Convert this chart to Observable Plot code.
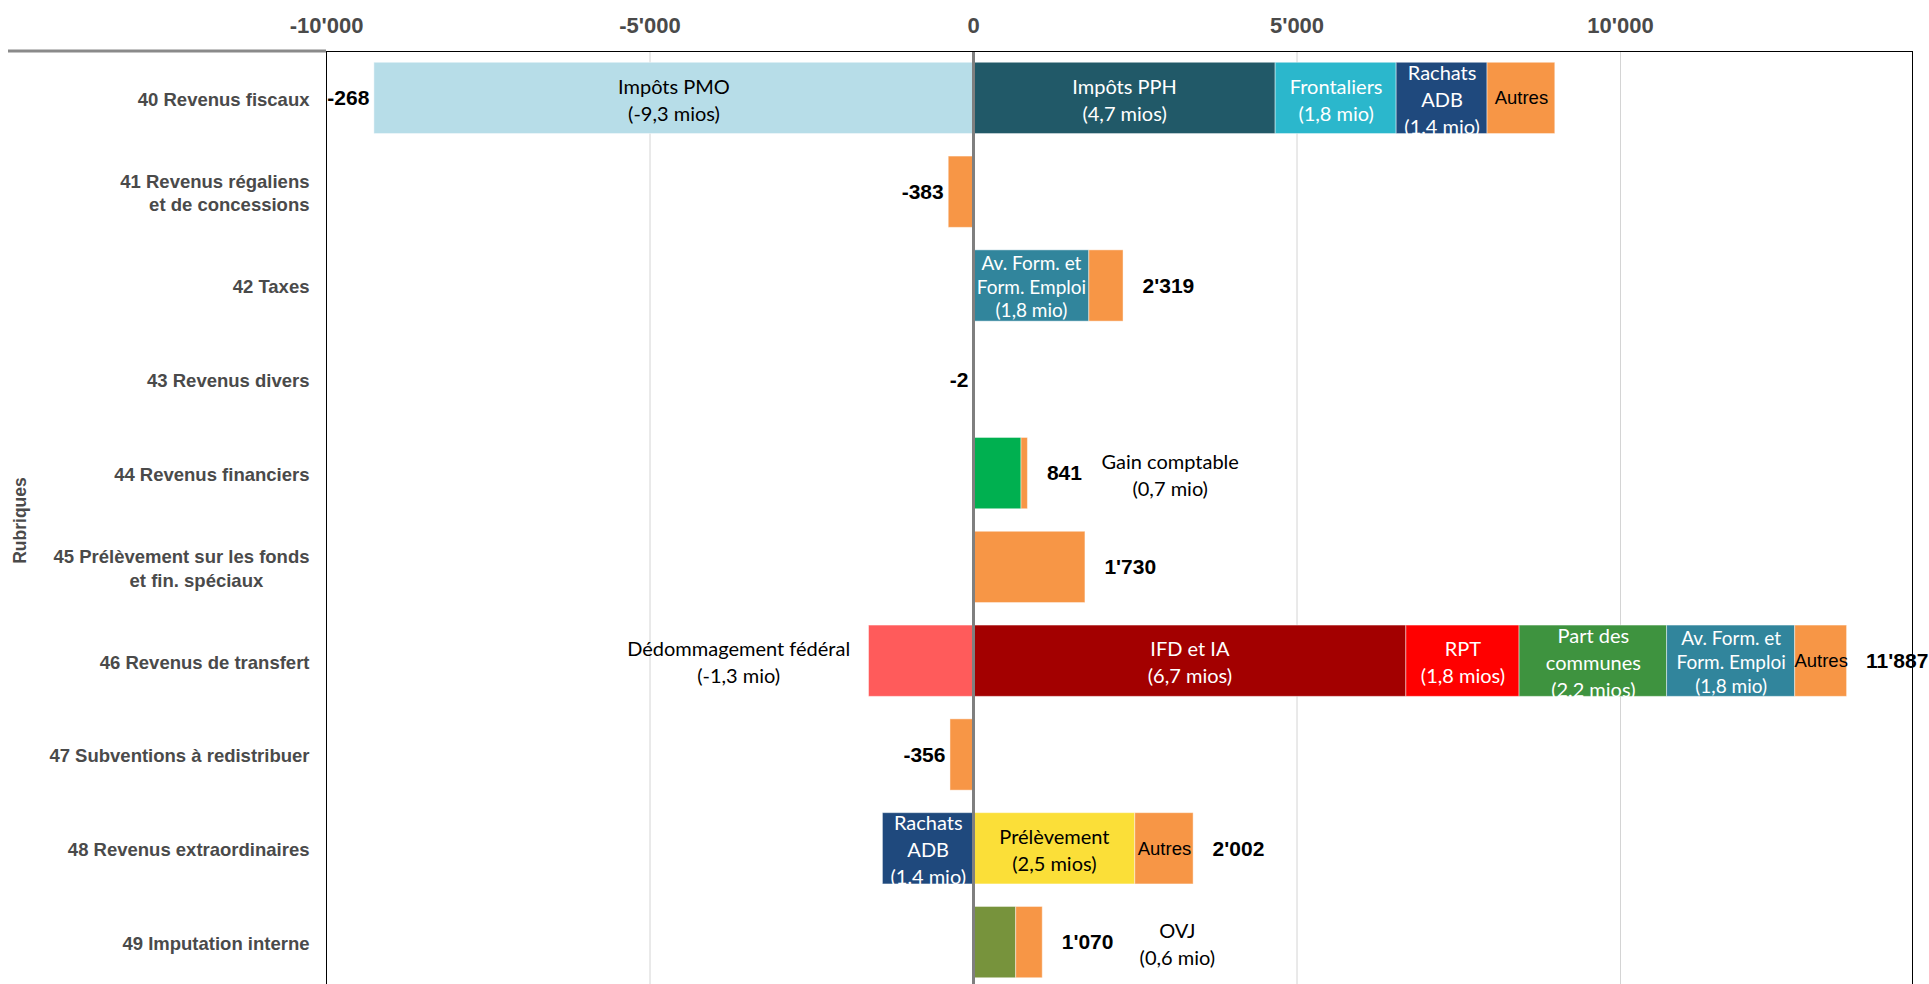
<!DOCTYPE html>
<html>
<head>
<meta charset="utf-8">
<script src="https://cdn.jsdelivr.net/npm/d3@7"></script>
<script src="https://cdn.jsdelivr.net/npm/@observablehq/plot@0.6"></script>
<style>
  html, body { margin: 0; padding: 0; background: #fff; overflow: hidden; }
  #chart svg { display: block; }
</style>
</head>
<body>
<div id="chart"></div>
<script>
// ---------------- DATA ----------------
const categories = [
  "40 Revenus fiscaux",
  "41 Revenus régaliens\net de concessions",
  "42 Taxes",
  "43 Revenus divers",
  "44 Revenus financiers",
  "45 Prélèvement sur les fonds\net fin. spéciaux",
  "46 Revenus de transfert",
  "47 Subventions à redistribuer",
  "48 Revenus extraordinaires",
  "49 Imputation interne"
];

// one entry per bar segment (index into categories)
const segCategory = [0, 0, 0, 0, 0, 1, 2, 2, 3, 4, 4, 5, 6, 6, 6, 6, 6, 6, 7, 8, 8, 8, 9, 9];
const segType = [
  "Impôts PMO", "Impôts PPH", "Frontaliers", "Rachats ADB", "Autres",
  "Autres",
  "Av. Form. et Form. Emploi", "Autres",
  "Autres",
  "Gain comptable", "Autres",
  "Autres",
  "Dédommagement fédéral", "IFD et IA", "RPT", "Part des communes", "Av. Form. et Form. Emploi", "Autres",
  "Autres",
  "Rachats ADB", "Prélèvement", "Autres",
  "OVJ", "Autres"
];
const segValue = [
  -9260, 4670, 1870, 1405, 1047,
  -383,
  1790, 529,
  -2,
  742, 99,
  1730,
  -1615, 6690, 1750, 2280, 1980, 802,
  -356,
  -1400, 2500, 902,
  660, 410
];
const segLabel = [
  "Impôts PMO\n(-9,3 mios)", "Impôts PPH\n(4,7 mios)", "Frontaliers\n(1,8 mio)", "Rachats\nADB\n(1,4 mio)", "Autres",
  "",
  "Av. Form. et\nForm. Emploi\n(1,8 mio)", "",
  "",
  "", "",
  "",
  "", "IFD et IA\n(6,7 mios)", "RPT\n(1,8 mios)", "Part des\ncommunes\n(2,2 mios)", "Av. Form. et\nForm. Emploi\n(1,8 mio)", "Autres",
  "",
  "Rachats\nADB\n(1,4 mio)", "Prélèvement\n(2,5 mios)", "Autres",
  "", ""
];

const netTotals = [-268, -383, 2319, -2, 841, 1730, 11887, -356, 2002, 1070];

// annotations written beside the bars
const noteCategory = [4, 6, 9];
const noteText = ["Gain comptable\n(0,7 mio)", "Dédommagement fédéral\n(-1,3 mio)", "OVJ\n(0,6 mio)"];
const noteX = [3040, -3630, 3150];

const xTicks = [-10000, -5000, 0, 5000, 10000];
const xDomain = [-10000, 14513];
const axisTitle = "Rubriques";

// ---------------- STYLE ----------------
const typeColors = {
  "Impôts PMO": "#b7dde8",
  "Impôts PPH": "#215968",
  "Frontaliers": "#2bb7cc",
  "Rachats ADB": "#1f497d",
  "Autres": "#f79646",
  "Av. Form. et Form. Emploi": "#31859c",
  "Gain comptable": "#00b050",
  "Dédommagement fédéral": "#ff5b5b",
  "IFD et IA": "#a30000",
  "RPT": "#ff0000",
  "Part des communes": "#3e933f",
  "Prélèvement": "#fbdf38",
  "OVJ": "#77933c"
};
const darkTypes = new Set(["Impôts PPH", "Frontaliers", "Rachats ADB", "Av. Form. et Form. Emploi", "IFD et IA", "RPT", "Part des communes"]);

const SANS = "'Liberation Sans', Arial, Helvetica, sans-serif";
const LABEL = "Lato, 'Open Sans', sans-serif";
const AXIS_COLOR = "#4a4a4a";
const M = {top: 51, right: 17, bottom: 10, left: 326};
const W = 1929, H = 999;

// ---------------- BUILD ----------------
const segments = segValue.map((v, i) => ({
  cat: categories[segCategory[i]],
  type: segType[i],
  value: v,
  label: segLabel[i]
}));

const rows = categories.map((c, i) => {
  const mine = segments.filter(s => s.cat === c);
  return {
    cat: c,
    net: netTotals[i],
    pos: d3.sum(mine, s => Math.max(0, s.value)),
    neg: d3.sum(mine, s => Math.min(0, s.value))
  };
});

const notes = noteText.map((t, i) => ({cat: categories[noteCategory[i]], text: t, x: noteX[i]}));

const fmt = d3.formatLocale({decimal: ",", thousands: "'", grouping: [3], currency: ["", ""], minus: "-"}).format(",d");

const isAutres = s => s.type === "Autres";
const isAvForm = s => s.type === "Av. Form. et Form. Emploi";

const chart = Plot.plot({
  width: W,
  height: H,
  marginTop: M.top,
  marginRight: M.right,
  marginBottom: M.bottom,
  marginLeft: M.left,
  style: {background: "#fff", fontFamily: SANS},
  x: {domain: xDomain, nice: false},
  y: {type: "band", domain: categories, paddingInner: 0.24, paddingOuter: 0.12, round: false},
  color: {type: "ordinal", domain: Object.keys(typeColors), range: Object.values(typeColors)},
  marks: [
    Plot.ruleX([-5000, 5000, 10000], {stroke: "#d4d4d4", strokeWidth: 1}),
    Plot.barX(segments, Plot.stackX({
      x: "value", y: "cat", fill: "type",
      stroke: "#ffffff", strokeOpacity: 0.45, strokeWidth: 1
    })),
    Plot.ruleX([0], {stroke: "#7f7f7f", strokeWidth: 3}),
    Plot.frame({stroke: "#000", strokeWidth: 1}),
    Plot.axisX(xTicks, {
      anchor: "top", tickSize: 0, tickPadding: 19, tickFormat: fmt, label: null,
      fontSize: 22, fontWeight: "bold", fontFamily: SANS, color: AXIS_COLOR
    }),
    Plot.axisY({
      anchor: "left", tickSize: 0, tickPadding: 17, label: null,
      tickFormat: d => d.startsWith("45") ? d + "\u00a0".repeat(9) : d,
      fontSize: 18.5, fontWeight: "bold", fontFamily: SANS, color: AXIS_COLOR, lineHeight: 1.26
    }),
    // labels inside segments (Calibri-like)
    Plot.text(segments, Plot.stackX({
      x: "value", y: "cat",
      text: s => (isAutres(s) || isAvForm(s)) ? "" : s.label,
      fill: s => darkTypes.has(s.type) ? "#ffffff" : "#000000",
      fontFamily: LABEL, fontSize: 20, lineHeight: 1.35
    })),
    Plot.text(segments, Plot.stackX({
      x: "value", y: "cat",
      text: s => isAvForm(s) ? s.label : "",
      fill: "#ffffff",
      fontFamily: LABEL, fontSize: 19, lineHeight: 1.25
    })),
    Plot.text(segments, Plot.stackX({
      x: "value", y: "cat",
      text: s => isAutres(s) ? s.label : "",
      fill: "#000000",
      fontFamily: SANS, fontSize: 18.5
    })),
    // net totals
    Plot.text(rows.filter(r => r.net >= 0), {
      x: "pos", y: "cat", text: r => fmt(r.net), textAnchor: "start", dx: 19,
      fontFamily: SANS, fontWeight: "bold", fontSize: 21, fill: "#000"
    }),
    Plot.text(rows.filter(r => r.net < 0), {
      x: "neg", y: "cat", text: r => fmt(r.net), textAnchor: "end", dx: -5,
      fontFamily: SANS, fontWeight: "bold", fontSize: 21, fill: "#000"
    }),
    // annotations
    Plot.text(notes, {
      x: "x", y: "cat", text: "text", fill: "#000",
      fontFamily: LABEL, fontSize: 20, lineHeight: 1.35
    }),
    // axis title
    Plot.text([axisTitle], {
      frameAnchor: "left", dx: -306, rotate: -90, text: d => d, textAnchor: "middle",
      fontFamily: SANS, fontWeight: "bold", fontSize: 17.5, fill: AXIS_COLOR
    })
  ]
});

// grey rule continuing the top edge over the label column
d3.select(chart).append("line")
  .attr("x1", 8).attr("x2", M.left)
  .attr("y1", M.top).attr("y2", M.top)
  .attr("stroke", "#8a8a8a").attr("stroke-width", 3);

document.getElementById("chart").appendChild(chart);
</script>
</body>
</html>
